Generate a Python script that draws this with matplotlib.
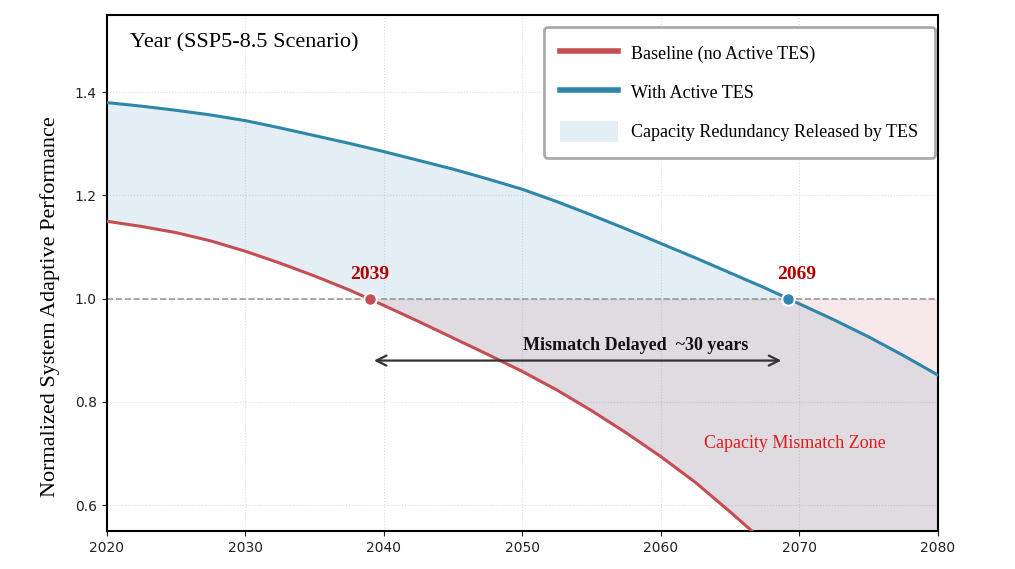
import numpy as np
import matplotlib.pyplot as plt

# values
years = [2020, 2022.5, 2025, 2027.5, 2030, 2032.5, 2035, 2037.5, 2040, 2042.5,
         2045, 2047.5, 2050, 2052.5, 2055, 2057.5, 2060, 2062.5, 2065, 2067.5,
         2070, 2072.5, 2075, 2077.5, 2080]
baseline = [1.150, 1.140, 1.128, 1.112, 1.092, 1.069, 1.044, 1.017, 0.987, 0.956,
            0.924, 0.892, 0.859, 0.823, 0.783, 0.740, 0.694, 0.644, 0.587, 0.528,
            0.468, 0.405, 0.340, 0.272, 0.200]
with_tes = [1.380, 1.373, 1.365, 1.356, 1.345, 1.331, 1.316, 1.301, 1.285, 1.268,
            1.251, 1.232, 1.212, 1.188, 1.162, 1.135, 1.107, 1.079, 1.050, 1.021,
            0.990, 0.959, 0.926, 0.890, 0.852]

threshold = 1.0
year_base_cross = 2039
year_tes_cross = 2069.2

red = '#c44e52'
blue = '#2e86ab'
serif = ['Liberation Serif', 'DejaVu Serif']

x = np.array(years)
yb = np.array(baseline)
yt = np.array(with_tes)

fig = plt.figure(figsize=(10.15, 5.69), dpi=100)
ax = fig.add_axes([0.105, 0.067, 0.819, 0.907])

# shaded zones
ax.fill_between(x, yb, yt, color=blue, alpha=0.13, linewidth=0,
                label='Capacity Redundancy Released by TES')
ax.fill_between(x, yb, threshold, where=yb <= threshold, interpolate=True,
                color=red, alpha=0.12, linewidth=0)

ax.axhline(threshold, color='#999999', linestyle='--', linewidth=1.2, zorder=2)

ax.plot(x, yb, color=red, linewidth=2.2, label='Baseline (no Active TES)', zorder=3)
ax.plot(x, yt, color=blue, linewidth=2.2, label='With Active TES', zorder=3)

# crossing points
ax.plot(year_base_cross, threshold, 'o', color=red, markersize=9,
        markeredgecolor='white', markeredgewidth=1.5, zorder=4)
ax.plot(year_tes_cross, threshold, 'o', color=blue, markersize=9,
        markeredgecolor='white', markeredgewidth=1.5, zorder=4)
ax.text(year_base_cross, 1.03, str(year_base_cross), color='#b00000', fontsize=14,
        fontweight='bold', family=serif, ha='center', va='bottom')
ax.text(year_tes_cross + 0.6, 1.03, '2069', color='#b00000', fontsize=14,
        fontweight='bold', family=serif, ha='center', va='bottom')

# delay arrow
ax.annotate('', xy=(year_tes_cross - 0.3, 0.88), xytext=(year_base_cross + 0.1, 0.88),
            arrowprops=dict(arrowstyle='<->', color='#333333', lw=1.6,
                            mutation_scale=18))
ax.text(2058.2, 0.91, 'Mismatch Delayed  ~30 years', fontsize=13, fontweight='bold',
        family=serif, ha='center', va='center', color='#111111')

ax.text(2069.7, 0.72, 'Capacity Mismatch Zone', color='#dd1c1c', fontsize=13,
        family=serif, ha='center', va='center')

ax.text(0.028, 0.946, 'Year (SSP5-8.5 Scenario)', transform=ax.transAxes,
        fontsize=16, family=serif, ha='left', va='center')

ax.set_xlim(2020, 2080)
ax.set_ylim(0.55, 1.55)
ax.set_xticks([2020, 2030, 2040, 2050, 2060, 2070, 2080])
ax.set_yticks([0.6, 0.8, 1.0, 1.2, 1.4])
ax.tick_params(labelsize=10, colors='#222222')
ax.set_ylabel('Normalized System Adaptive Performance', fontsize=16, family=serif)
ax.yaxis.set_label_coords(-0.056, 0.434)
ax.grid(True, linestyle=':', color='#dddddd', linewidth=0.8)
ax.set_axisbelow(True)
for s in ax.spines.values():
    s.set_linewidth(1.5)

handles, labels = ax.get_legend_handles_labels()
order = [1, 2, 0]
leg = ax.legend([handles[i] for i in order], [labels[i] for i in order],
                loc='upper right', bbox_to_anchor=(0.9964, 0.977),
                prop={'family': serif, 'size': 13}, frameon=True, fancybox=True,
                handlelength=3.2, handleheight=1.4, labelspacing=1.0,
                borderpad=0.9, handletextpad=0.75, borderaxespad=0, framealpha=1)
for h in leg.get_lines():
    h.set_linewidth(4)
leg.get_frame().set_edgecolor('#aaaaaa')
leg.get_frame().set_linewidth(2)

fig.savefig('out.png', dpi=100)
